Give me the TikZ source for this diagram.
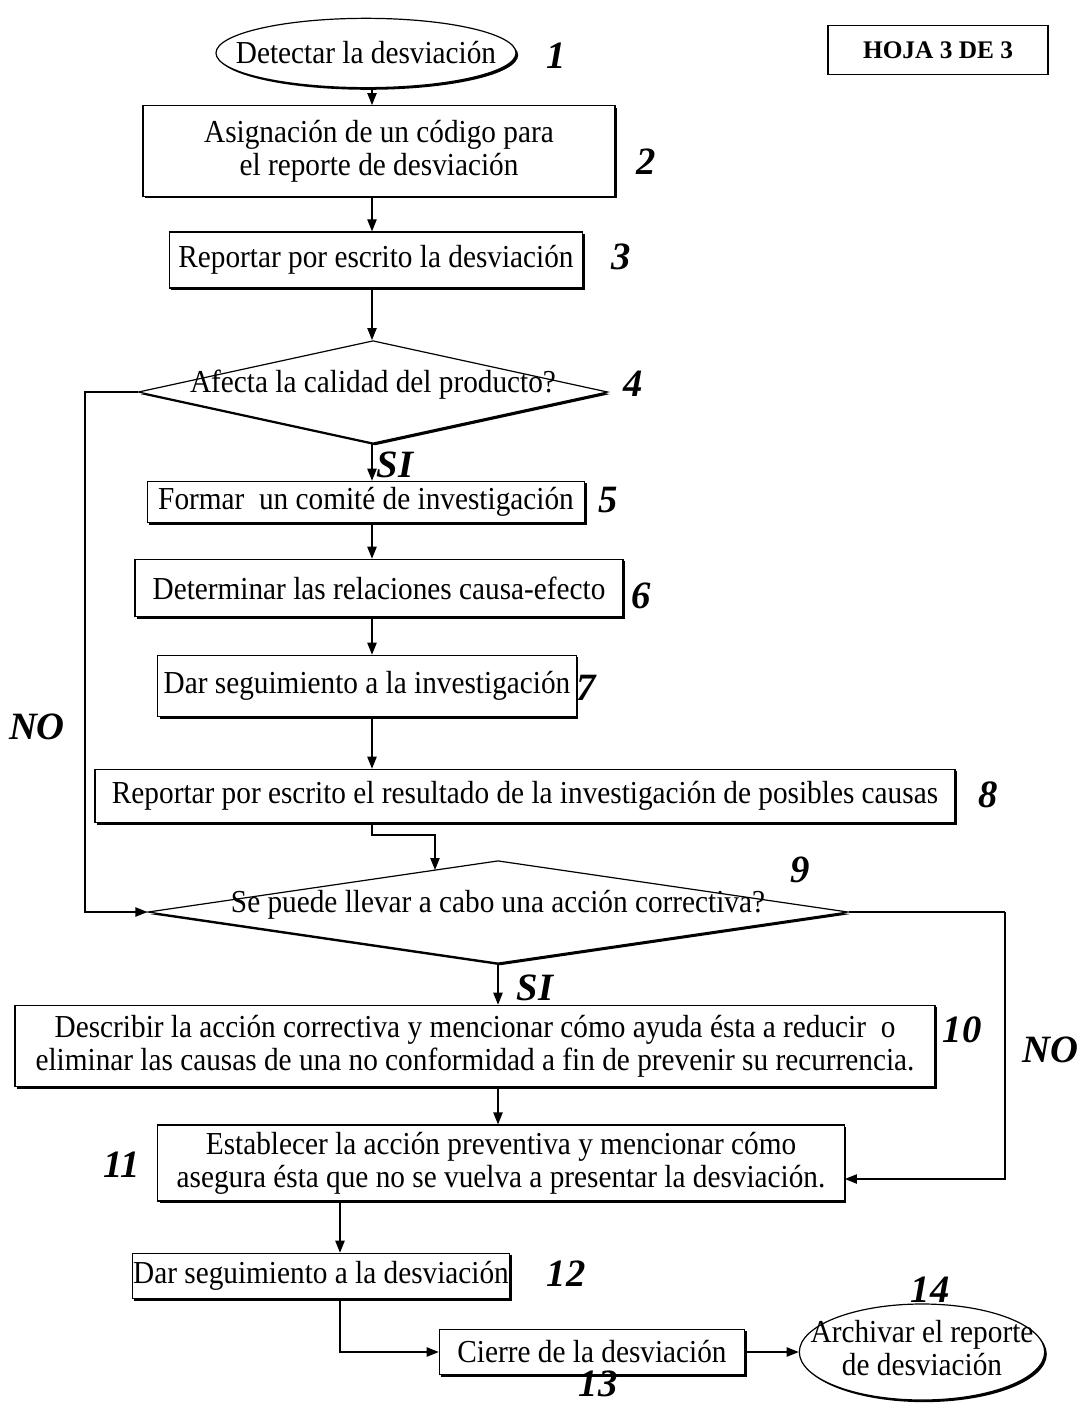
\documentclass[tikz,border=0pt]{standalone}
\usepackage{fontspec}
\setmainfont{Liberation Serif}
\newfontfamily\bodyfont[FakeStretch=0.915]{Liberation Serif}
\usetikzlibrary{shapes.geometric,shadows,arrows.meta,calc}
\begin{document}
\begin{tikzpicture}[x=0.75pt,y=-0.75pt,
  shd/.style={drop shadow={shadow xshift=1.6pt,shadow yshift=-1.6pt,fill=black,opacity=1}},
  box/.style={draw,line width=0.9pt,fill=white,shd,inner sep=0pt,align=center,font=\bodyfont\fontsize{24}{25}\selectfont},
  oval/.style={box,ellipse},
  dia/.style={box,diamond},
  num/.style={font=\fontsize{29}{30}\selectfont\bfseries\itshape,inner sep=0pt},
  arr/.style={line width=0.9pt,-{Triangle[length=9pt,width=7pt]}},
  ln/.style={line width=0.9pt}]
\useasboundingbox (0,0) rectangle (1078,1405);
% nodes
\node[oval,minimum width=225pt,minimum height=52pt] (e1) at (366,53) {\makebox[0pt]{Detectar la desviación}};
\node[draw,line width=0.9pt,minimum width=165pt,minimum height=37pt,inner sep=0pt,font=\fontsize{19}{20}\selectfont\bfseries] (hoja) at (938,50) {HOJA 3 DE 3};
\node[box,minimum width=354pt,minimum height=68pt] (b2) at (379,151) {Asignación de un código para\\el reporte de desviación};
\node[box,minimum width=310pt,minimum height=42pt] (b3) at (376,260) {Reportar por escrito la desviación};
\node[dia,minimum width=352pt,minimum height=77pt] (d4) at (373,392) {\makebox[0pt]{\smash{Afecta la calidad del producto?}}};
\node[box,minimum width=328pt,minimum height=31pt] (b5) at (366,502) {Formar\ \ un comité de investigación};
\node[box,minimum width=366pt,minimum height=43pt] (b6) at (379,588) {Determinar las relaciones causa-efecto};
\node[box,minimum width=314pt,minimum height=46pt] (b7) at (367,686) {Dar seguimiento a la investigación};
\node[box,minimum width=645pt,minimum height=40pt] (b8) at (525,796) {Reportar por escrito el resultado de la investigación de posibles causas};
\node[dia,minimum width=525pt,minimum height=77pt] (d9) at (498,912) {\makebox[0pt]{\smash{Se puede llevar a cabo una acción correctiva?}}};
\node[box,minimum width=690pt,minimum height=61pt] (b10) at (475,1046) {Describir la acción correctiva y mencionar cómo ayuda ésta a reducir\ \ o\\eliminar las causas de una no conformidad a fin de prevenir su recurrencia.};
\node[box,minimum width=515pt,minimum height=57pt] (b11) at (501,1163) {Establecer la acción preventiva y mencionar cómo\\asegura ésta que no se vuelva a presentar la desviación.};
\node[box,minimum width=283pt,minimum height=34pt] (b12) at (321,1276) {Dar seguimiento a la desviación};
\node[box,minimum width=229pt,minimum height=34pt] (b13) at (592,1352) {Cierre de la desviación};
\node[oval,minimum width=184pt,minimum height=72pt] (e14) at (922,1352) {\makebox[0pt]{\begin{tabular}{@{}c@{}}Archivar el reporte\\de desviación\end{tabular}}};
% labels
\node[num] (l1) at (556,56) {1};
\node[num] (l2) at (646,162) {2};
\node[num] (l3) at (621,257) {3};
\node[num] (l4) at (633,384) {4};
\node[num] (l5) at (608,500) {5};
\node[num] (l6) at (641,596) {6};
\node[num] (l7) at (586,688) {7};
\node[num] (l8) at (988,795) {8};
\node[num] (l9) at (800,870) {9};
\node[num] (l10) at (962,1030) {10};
\node[num] (l11) at (122,1165) {11};
\node[num] (l12) at (566,1274) {12};
\node[num] (l13) at (598,1384) {13};
\node[num] (l14) at (930,1290) {14};
\node[num] (no1) at (37,727) {NO};
\node[num] (no2) at (1050,1050) {NO};
\node[num] (si1) at (395,465) {SI};
\node[num] (si2) at (535,988) {SI};
% helper coordinates
\coordinate (cx) at (372,0);
\coordinate (cx2) at (340,0);
\coordinate (noL) at (85,392);
\coordinate (noR) at (1005,912);
\coordinate (j8) at (435,835);
\coordinate (d9in) at (435,870);
% connectors
\draw[arr] (e1.south -| cx) -- (b2.north -| cx);
\draw[arr] (b2.south -| cx) -- (b3.north -| cx);
\draw[arr] (b3.south -| cx) -- (d4.north -| cx);
\draw[arr] (d4.south -| cx) -- (b5.north -| cx);
\draw[arr] (b5.south -| cx) -- (b6.north -| cx);
\draw[arr] (b6.south -| cx) -- (b7.north -| cx);
\draw[arr] (b7.south -| cx) -- (b8.north -| cx);
\draw[arr] (b8.south -| cx) |- (j8) -- (d9in);
\draw[arr] (d4.west) -- (noL) |- (d9.west);
\draw[ln] (d9.east) -- (noR);
\draw[arr] (noR) |- ([yshift=-12pt]b11.east);
\draw[arr] (d9.south) -- (b10.north -| d9.south);
\draw[arr] (b10.south -| d9.south) -- (b11.north -| d9.south);
\draw[arr] (b11.south -| cx2) -- (b12.north -| cx2);
\draw[arr] (b12.south -| cx2) |- (b13.west);
\draw[arr] (b13.east) -- (e14.west);
\end{tikzpicture}
\end{document}
